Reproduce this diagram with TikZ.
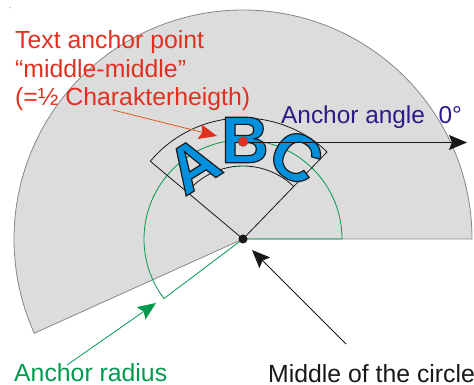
\documentclass[tikz,border=0pt]{standalone}
\usepackage{fontspec}
\setmainfont{Liberation Sans}
\newfontfamily\abcfont[FakeBold=1.8]{Liberation Sans Bold}
\usetikzlibrary{arrows.meta,calc}
\definecolor{sectorgray}{RGB}{220,220,220}
\definecolor{edgegray}{RGB}{135,135,135}
\definecolor{noteblack}{RGB}{26,23,27}
\definecolor{notered}{RGB}{226,48,32}
\definecolor{noteorange}{RGB}{240,80,20}
\definecolor{notegreen}{RGB}{0,154,78}
\definecolor{noteindigo}{RGB}{46,26,135}
\definecolor{letterblue}{RGB}{0,144,222}

\begin{document}
\begin{tikzpicture}[
  x=1pt, y=1pt,
  label/.style={inner sep=0pt, font=\fontsize{24.8}{28}\selectfont, anchor=base west, align=left},
  letter/.style={inner sep=0pt, font=\abcfont\fontsize{66}{66}\selectfont, text=letterblue},
  arrow/.style={-{Stealth[length=18pt, width=15pt, inset=3pt]}, noteblack, line width=0.8pt},
  dot/.style={circle, fill=noteblack, inner sep=0pt, minimum size=9pt}
]
\useasboundingbox (0,0) rectangle (474,385);
\coordinate (mid) at (243,146);
\fill[noteblack] (10,377) circle (0.5);
% grey sector and green anchor arc
\draw[edgegray, fill=sectorgray, line width=0.8pt] (mid) -- ++(0:229) arc (0:204.3:229) -- cycle;
\draw[notegreen, line width=0.8pt] (mid) -- ++(0:99) arc (0:217:99) -- cycle;
% text frame
\draw[noteblack, line width=0.8pt] (mid) -- ++(46:121) arc (46:140:121) -- cycle;
\draw[noteblack, line width=0.8pt] ([shift={(46:73)}]mid) arc (46:140:73);
\node[letter, rotate=32] (a) at (193,220) {\special{pdf:code 0.1 0.1 0.1 RG}A};
\node[letter] (b) at (245,245) {\special{pdf:code 0.1 0.1 0.1 RG}B};
\node[letter, rotate=-32] (c) at (296,228) {\special{pdf:code 0.1 0.1 0.1 RG}C};
\node[dot] (center) at (mid) {};
\node[circle, draw=noteblack!70, fill=notered, inner sep=0pt, minimum size=10pt] (anchor) at (243,243.5) {};
% labels
\node[label, text=notered] (textlabel) at (15,336) {Text anchor point};
\node[label, text=notered] (quotelabel) at (15,307) {“middle-middle”};
\node[label, text=notered] (heightlabel) at (15,279) {(=½ Charakterheigth)};
\node[label, text=noteindigo, font=\fontsize{24.4}{28}\selectfont] (anglelabel) at (281,261) {Anchor angle\ \ 0°};
\node[label, text=notegreen] (radiuslabel) at (14,3) {Anchor radius};
\node[label, text=noteblack] (circlelabel) at (268,2) {Middle of the circle};
% arrows
\coordinate (reda) at (113,275);
\coordinate (redb) at (217,249);
\coordinate (greena) at (67,20);
\coordinate (greenb) at (156,82);
\coordinate (blacka) at (346,41);
\coordinate (blackb) at (252,135);
\coordinate (anglea) at (467,242.5);
\draw[arrow, noteorange, -{Stealth[length=18pt, width=15pt, inset=3pt, notered]}] (reda) -- (redb);
\draw[arrow, notegreen] (greena) -- (greenb);
\draw[arrow] (blacka) -- (blackb);
\draw[arrow] (anchor.east |- anglea) -- (anglea);
\end{tikzpicture}
\end{document}
